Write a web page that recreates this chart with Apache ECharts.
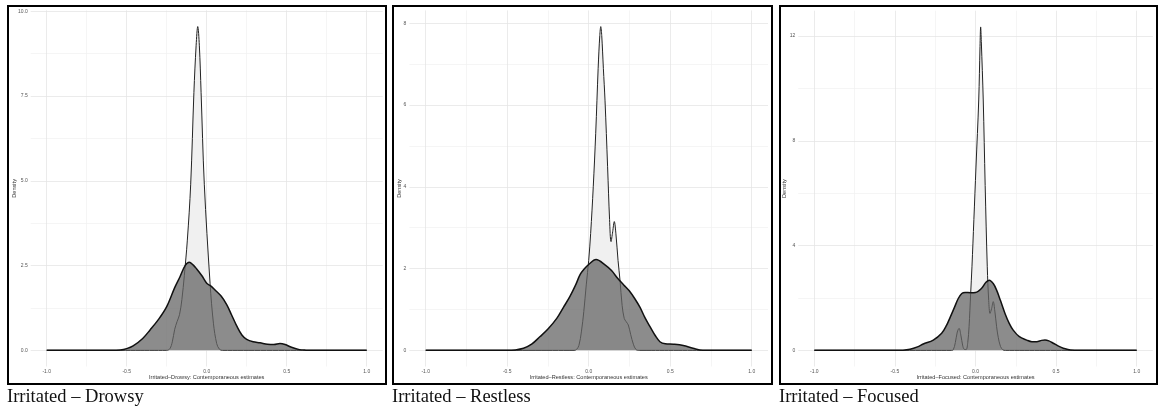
<!DOCTYPE html>
<html>
<head>
<meta charset="utf-8">
<script src="https://cdn.jsdelivr.net/npm/echarts@6/dist/echarts.min.js"></script>
<style>
  html, body { margin: 0; padding: 0; background: #fff; }
  #chart { width: 1160px; height: 414px; }
</style>
</head>
<body>
<div id="chart"></div>
<script>
// panel captions and axis titles
const captions = ['Irritated – Drowsy', 'Irritated – Restless', 'Irritated – Focused'];
const xTitles = [
    'Irritated–Drowsy: Contemporaneous estimates',
    'Irritated–Restless: Contemporaneous estimates',
    'Irritated–Focused: Contemporaneous estimates'
];

// x axis (shared)
const xTicks = [-1, -0.5, 0, 0.5, 1];
const xMinor = [-0.75, -0.25, 0.25, 0.75];

// y axis per panel
const yTicks1 = [0, 2.5, 5, 7.5, 10];
const yMinor1 = [1.25, 3.75, 6.25, 8.75];
const yTicks2 = [0, 2, 4, 6, 8];
const yMinor2 = [1, 3, 5, 7];
const yTicks3 = [0, 4, 8, 12];
const yMinor3 = [2, 6, 10];

// Drowsy: broad density
const drowsyBroadX = [-1, -0.6, -0.54, -0.5, -0.46, -0.4, -0.354, -0.3, -0.25, -0.2, -0.167, -0.135, -0.109, -0.085, -0.0625, -0.03, 0, 0.025, 0.052, 0.09, 0.125, 0.155, 0.1875, 0.22, 0.25, 0.29, 0.333, 0.38, 0.42, 0.458, 0.49, 0.53, 0.58, 0.62, 0.7, 1];
const drowsyBroadY = [0, 0, 0.01, 0.05, 0.13, 0.35, 0.6, 0.92, 1.29, 1.85, 2.17, 2.5, 2.6, 2.52, 2.4, 2.2, 1.98, 1.9, 1.78, 1.6, 1.35, 1.05, 0.72, 0.45, 0.32, 0.25, 0.22, 0.18, 0.17, 0.2, 0.17, 0.09, 0.02, 0.005, 0, 0];
// Drowsy: narrow density
const drowsyNarrowX = [-1, -0.25, -0.23, -0.215, -0.2, -0.185, -0.17, -0.155, -0.14, -0.121, -0.1, -0.08, -0.066, -0.056, -0.046, -0.035, -0.015, 0.021, 0.042, 0.0625, 0.08, 0.1, 1];
const drowsyNarrowY = [0, 0, 0.05, 0.25, 0.62, 0.85, 1.05, 1.5, 2.2, 3.25, 4.9, 7.6, 9.0, 9.55, 9.0, 7.6, 4.9, 1.98, 0.8, 0.2, 0.03, 0, 0];

// Restless: broad density
const restlessBroadX = [-1, -0.5, -0.45, -0.4, -0.35, -0.3, -0.25, -0.196, -0.155, -0.115, -0.08, -0.053, -0.025, 0, 0.045, 0.1, 0.14, 0.18, 0.215, 0.25, 0.285, 0.315, 0.345, 0.376, 0.41, 0.437, 0.47, 0.52, 0.58, 0.64, 0.7, 1];
const restlessBroadY = [0, 0, 0.01, 0.05, 0.15, 0.33, 0.52, 0.78, 1.05, 1.32, 1.6, 1.85, 2.0, 2.1, 2.22, 2.09, 1.95, 1.75, 1.6, 1.45, 1.25, 1.05, 0.8, 0.58, 0.35, 0.21, 0.16, 0.15, 0.12, 0.05, 0, 0];
// Restless: narrow density
const restlessNarrowX = [-1, -0.09, -0.075, -0.06, -0.045, -0.03, -0.015, 0, 0.012, 0.028, 0.043, 0.058, 0.068, 0.074, 0.08, 0.09, 0.1, 0.116, 0.128, 0.137, 0.147, 0.157, 0.167, 0.18, 0.192, 0.205, 0.218, 0.23, 0.243, 0.258, 0.274, 0.29, 0.31, 1];
const restlessNarrowY = [0, 0, 0.02, 0.12, 0.45, 0.95, 1.6, 2.2, 2.86, 4.0, 5.31, 6.9, 7.7, 7.92, 7.7, 6.9, 6.12, 4.49, 3.2, 2.66, 2.9, 3.15, 2.85, 2.2, 1.72, 1.1, 0.78, 0.7, 0.62, 0.38, 0.15, 0.02, 0, 0];

// Focused: broad density
const focusedBroadX = [-1, -0.5, -0.45, -0.406, -0.36, -0.324, -0.262, -0.21, -0.18, -0.158, -0.13, -0.107, -0.085, -0.065, -0.03, 0, 0.038, 0.065, 0.086, 0.11, 0.131, 0.155, 0.183, 0.21, 0.234, 0.27, 0.318, 0.35, 0.38, 0.41, 0.431, 0.455, 0.483, 0.515, 0.545, 0.59, 0.65, 1];
const focusedBroadY = [0, 0, 0.005, 0.04, 0.13, 0.24, 0.39, 0.65, 0.95, 1.25, 1.65, 1.98, 2.17, 2.21, 2.2, 2.21, 2.37, 2.6, 2.68, 2.55, 2.3, 1.9, 1.41, 1.02, 0.77, 0.53, 0.39, 0.33, 0.33, 0.38, 0.39, 0.36, 0.27, 0.16, 0.08, 0.01, 0, 0];
// Focused: narrow density
const focusedNarrowX = [-1, -0.15, -0.138, -0.125, -0.113, -0.102, -0.09, -0.08, -0.07, -0.058, -0.048, -0.04, -0.03, -0.022, -0.01, 0.003, 0.02, 0.028, 0.032, 0.036, 0.048, 0.06, 0.073, 0.082, 0.09, 0.1, 0.11, 0.12, 0.131, 0.141, 0.155, 0.17, 0.185, 1];
const focusedNarrowY = [0, 0, 0.02, 0.3, 0.7, 0.84, 0.55, 0.2, 0.04, 0.03, 0.3, 0.9, 2.17, 3.19, 5.0, 7.0, 9.56, 11.6, 12.35, 11.8, 9.56, 6.3, 3.19, 1.9, 1.41, 1.6, 1.86, 1.5, 0.9, 0.5, 0.15, 0.02, 0, 0];

const zip = (xs, ys) => xs.map((x, i) => [x, ys[i]]);

const panels = [
    { grid: { left: 30.7, top: 10.3, width: 352, height: 356.2 }, yMin: -0.4775, yMax: 10.03,
      yTicks: yTicks1, yMinor: yMinor1, fmt: v => v.toFixed(1), yGap: 13,
      broad: zip(drowsyBroadX, drowsyBroadY), narrow: zip(drowsyNarrowX, drowsyNarrowY),
      box: [8, 6, 378, 378], capX: 7 },
    { grid: { left: 409.4, top: 10.4, width: 358.6, height: 356.1 }, yMin: -0.396, yMax: 8.316,
      yTicks: yTicks2, yMinor: yMinor2, fmt: v => String(v), yGap: 6.6,
      broad: zip(restlessBroadX, restlessBroadY), narrow: zip(restlessNarrowX, restlessNarrowY),
      box: [393, 6, 379, 378], capX: 392 },
    { grid: { left: 798.2, top: 10.7, width: 354.6, height: 355.8 }, yMin: -0.6175, yMax: 12.97,
      yTicks: yTicks3, yMinor: yMinor3, fmt: v => String(v), yGap: 10.4,
      broad: zip(focusedBroadX, focusedBroadY), narrow: zip(focusedNarrowX, focusedNarrowY),
      box: [780, 6, 377, 378], capX: 779 }
];

const MAJOR = '#e6e6e6';
const MINOR = '#f3f3f3';
const labelFont = { fontFamily: 'Liberation Sans, Arial, sans-serif', fontSize: 5, color: '#555' };
const nameFont = { fontFamily: 'Liberation Sans, Arial, sans-serif', fontSize: 5.6, color: '#333' };

const grids = [], xAxes = [], yAxes = [], series = [], graphics = [];

panels.forEach((p, i) => {
    grids.push(p.grid);
    xAxes.push({
        type: 'value', gridIndex: i, min: -1.1, max: 1.1,
        axisLine: { show: false }, axisTick: { show: false }, splitLine: { show: false },
        axisLabel: Object.assign({ customValues: xTicks, margin: 3, formatter: v => v.toFixed(1) }, labelFont),
        name: xTitles[i], nameLocation: 'middle', nameGap: 8, nameMoveOverlap: false,
        nameTextStyle: nameFont
    });
    yAxes.push({
        type: 'value', gridIndex: i, min: p.yMin, max: p.yMax,
        axisLine: { show: false }, axisTick: { show: false }, splitLine: { show: false },
        axisLabel: Object.assign({ customValues: p.yTicks, margin: 3, formatter: p.fmt }, labelFont),
        name: 'Density', nameLocation: 'middle', nameGap: p.yGap, nameMoveOverlap: false,
        nameTextStyle: nameFont
    });

    const lines = [];
    xMinor.forEach(v => lines.push({ xAxis: v, lineStyle: { color: MINOR } }));
    p.yMinor.forEach(v => lines.push({ yAxis: v, lineStyle: { color: MINOR } }));
    xTicks.forEach(v => lines.push({ xAxis: v, lineStyle: { color: MAJOR } }));
    p.yTicks.forEach(v => lines.push({ yAxis: v, lineStyle: { color: MAJOR } }));

    // background grid lines, kept below the densities
    series.push({
        type: 'line', xAxisIndex: i, yAxisIndex: i, data: [], z: 0, silent: true,
        markLine: { z: 0, silent: true, symbol: ['none', 'none'], label: { show: false },
            lineStyle: { type: 'solid', width: 0.8 }, animation: false, data: lines }
    });
    series.push({
        type: 'line', xAxisIndex: i, yAxisIndex: i, data: p.narrow, z: 2,
        smooth: 0.35, showSymbol: false, silent: true,
        lineStyle: { color: '#222', width: 1 },
        areaStyle: { color: '#f0f0f0', opacity: 1 }
    });
    series.push({
        type: 'line', xAxisIndex: i, yAxisIndex: i, data: p.broad, z: 3,
        smooth: 0.35, showSymbol: false, silent: true,
        lineStyle: { color: '#111', width: 1.5 },
        areaStyle: { color: 'rgba(102,102,102,0.75)', opacity: 1 }
    });

    graphics.push({
        type: 'rect', silent: true, z: 10,
        shape: { x: p.box[0], y: p.box[1], width: p.box[2], height: p.box[3] },
        style: { fill: 'none', stroke: '#000', lineWidth: 2 }
    });
    graphics.push({
        type: 'text', silent: true, z: 10, x: p.capX, y: 397,
        style: { text: captions[i], font: '18.5px "Liberation Serif", "Times New Roman", serif',
            fill: '#111', textVerticalAlign: 'middle' }
    });
});

const chart = echarts.init(document.getElementById('chart'));
chart.setOption({
    animation: false,
    grid: grids,
    xAxis: xAxes,
    yAxis: yAxes,
    series: series,
    graphic: graphics
});
window.addEventListener('resize', () => chart.resize());
</script>
</body>
</html>
